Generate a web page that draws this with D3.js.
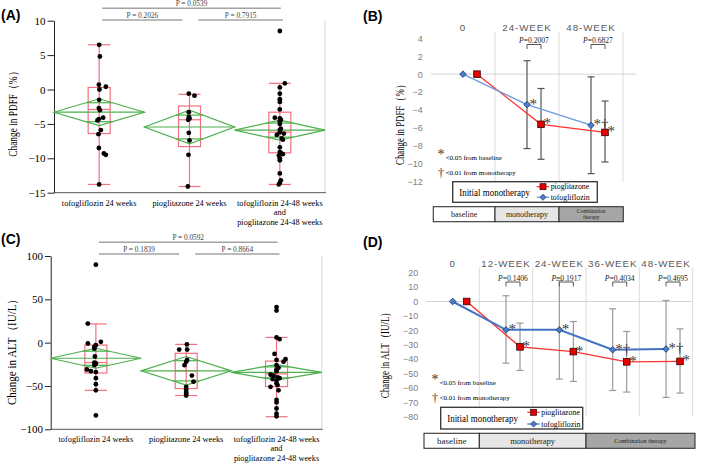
<!DOCTYPE html>
<html><head><meta charset="utf-8">
<script src="https://cdn.jsdelivr.net/npm/d3@7"></script>
<style>body{margin:0;background:#fff}svg{display:block}</style>
</head><body>
<svg id="c" width="709" height="464"></svg>
<script>
const serif = "'Liberation Serif','Times New Roman',Times,serif";
const sans = "'Liberation Sans',Arial,Helvetica,sans-serif";

// ---------------- Data: box panels (A: PDFF, C: ALT) ----------------
const groupLabels = [["tofogliflozin 24 weeks"], ["pioglitazone 24 weeks"], ["tofogliflozin 24-48 weeks", "and", "pioglitazone 24-48 weeks"]];

const pdffTicks = [10, 5, 0, -5, -10, -15];
const pdffTofo24 = [6.5, 4.8, 0.7, 0.4, 0.0, -1.5, -2.7, -3.0, -4.1, -4.3, -4.5, -5.9, -6.5, -8.5, -9.3, -9.5, -13.8];
const pdffTofo24Jit = [0, 0.7, -0.3, 6.7, 0.3, 0, -0.3, 0.7, 4, -0.3, -1.7, 1.7, -0.7, -0.3, 4.7, 6.7, 0];
const pdffPio24 = [-0.6, -0.9, -3.3, -4.0, -4.2, -4.4, -6.3, -7.4, -9.5, -14.1];
const pdffPio24Jit = [-0.7, 5, -0.7, -0.7, 0, -1.3, -0.7, 0, -1, -1.7];
const pdffComb = [8.5, 0.9, 0.3, -0.6, -1.4, -1.8, -2.9, -4.1, -4.2, -4.4, -4.6, -5.0, -5.7, -5.9, -6.2, -6.4, -6.6, -7.1, -7.3, -8.4, -9.1, -9.2, -9.4, -9.6, -10.0, -10.3, -12.2, -13.2, -13.6, -13.8];
const pdffCombJit = [0, 5, 0, 0, 0, 0, 0, -5, 0, 1, 0, 0, 1, 0, 0, 4, -3, 2, 3, 0, 0, 1, 3, -1, 0, 0, 0, 1, 0, -1];
const pdffWhiskLo = [-13.8, -14.1, -13.8];
const pdffQ1 = [-6.4, -8.3, -9.2];
const pdffMedian = [-2.9, -4.4, -6.2];
const pdffQ3 = [0.3, -2.4, -3.3];
const pdffWhiskHi = [6.5, -0.7, 0.9];
const pdffMean = [-3.3, -5.45, -5.9];
const pdffCI = [1.95, 2.45, 1.45];
const pdffPairs = [[0, 2], [0, 1], [1, 2]];
const pdffPvals = ["P = 0.0539", "P = 0.2026", "P = 0.7915"];

const altTicks = [100, 50, 0, -50, -100];
const altTofo24 = [90, 22, 1, -1, -3, -5, -7, -16, -23, -24, -26, -31, -33, -34, -41, -48, -55, -84];
const altTofo24Jit = [0, -8, 5, -8, 0, -1.5, -1.5, -1, -1.5, 0, -1.5, -9, -5, 0, 0, 0, 0, 0];
const altPio24 = [-2, -8, -8, -20, -22, -26, -38, -45, -51, -54, -57, -59, -61];
const altPio24Jit = [0.7, 1, -7, 1, 0, -1.7, 5.7, 7.3, 0, 0, 0, 0, 0];
const altComb = [41, 37, 6, 4, -13, -19, -20, -22, -26, -29, -31, -33, -37, -38, -40, -41, -42, -44, -47, -49, -51, -55, -66, -69, -76, -82, -85];
const altCombJit = [0, 0, 0, 3, -2, 9, 0, 7, 0, 2, 0, 0, -6, -3, 1, 3, -4, 0, 0, 1, -6, 2, 0, 0, 0, 0, 0];
const altWhiskLo = [-55, -61, -85.5];
const altQ1 = [-35, -53, -50.7];
const altMedian = [-23, -32.5, -36];
const altQ3 = [-2.7, -12.3, -21.3];
const altWhiskHi = [21.6, -2, 6];
const altMean = [-18, -32.5, -34.3];
const altCI = [11.5, 16.5, 9];
const altPairs = [[0, 2], [0, 1], [1, 2]];
const altPvals = ["P = 0.0592", "P = 0.1839", "P = 0.8664"];

// ---------------- Data: line panels (B: PDFF, D: ALT) ----------------
const pdffWeeks = ["0", "24-WEEK", "48-WEEK"];
const pdffWeekTicks = [4, 2, 0, -2, -4, -6, -8, -10, -12];
const pdffTofoMean = [0, -3.4, -5.7];
const pdffTofoLo = [null, -8.3, -11.1];
const pdffTofoHi = [null, 1.5, -0.3];
const pdffPioMean = [0, -5.6, -6.5];
const pdffPioLo = [null, -9.5, -9.8];
const pdffPioHi = [null, -1.6, -3.0];
const pdffTofoSig = ["", "*", "*†"];
const pdffPioSig = ["", "*", "*"];
const pdffWeekP = [null, "0.2007", "0.6827"];

const altWeeks = ["0", "12-WEEK", "24-WEEK", "36-WEEK", "48-WEEK"];
const altWeekTicks = [20, 10, 0, -10, -20, -30, -40, -50, -60, -70, -80];
const altTofoMean = [0, -19.7, -19.7, -33.5, -33.0];
const altTofoLo = [null, -42.8, -53.9, -61.8, -66.6];
const altTofoHi = [null, 4, 14.6, -5.1, 0.7];
const altPioMean = [0, -31.5, -34.8, -41.9, -41.6];
const altPioLo = [null, -47.9, -55.5, -62.9, -63.6];
const altPioHi = [null, -15, -13.9, -20.8, -19];
const altTofoSig = ["", "*", "*", "*†", "*†"];
const altPioSig = ["", "*", "*", "*", "*"];
const altWeekP = [null, "0.1406", "0.1917", "0.4034", "0.4695"];

const seriesNames = ["pioglitazone", "tofogliflozin"];
const phases = ["baseline", "monotherapy", "Combination therapy"];

// ---------------- Drawing ----------------
const svg = d3.select("#c");
const boxColor = "#f2707f", green = "#4cb04c";

function panelLabel(t, x, y) {
  svg.append("text").attr("x", x).attr("y", y).text(t)
    .attr("font-family", sans).attr("font-weight", "bold").attr("font-size", 14);
}
function yLabel(t, x, y, len) {
  svg.append("text").attr("transform", `translate(${x},${y}) rotate(-90)`)
    .attr("text-anchor", "middle").attr("font-family", serif).attr("font-size", 11.5)
    .attr("textLength", len).attr("lengthAdjust", "spacingAndGlyphs").text(t);
}

function drawBoxPanel(c) {
  const g = svg.append("g");
  const x = d3.scaleBand().domain(d3.range(3)).range(c.xr);
  const y = d3.scaleLinear().domain(c.domain).range(c.yr);
  const bw = x.bandwidth(), cx = i => x(i) + bw / 2;
  g.append("line").attr("x1", c.xr[1]).attr("x2", c.xr[1]).attr("y1", c.yr[1]).attr("y2", c.yr[0])
    .attr("stroke", "#e2e2e2").attr("stroke-width", 1.5);
  g.append("line").attr("x1", c.xr[0]).attr("x2", c.xr[1] + 1).attr("y1", c.yr[0]).attr("y2", c.yr[0])
    .attr("stroke", "#555").attr("stroke-width", 1);
  const ax = g.append("g").attr("transform", `translate(${c.xr[0]},0)`)
    .call(d3.axisLeft(y).tickValues(c.ticks).tickSize(c.tickLen).tickSizeOuter(0).tickPadding(2));
  ax.selectAll("text").attr("font-family", serif).attr("font-size", 11).attr("fill", "#000");
  ax.selectAll("line,path").attr("stroke", "#222");

  const hw = 11;
  d3.range(3).forEach(i => {
    const X = cx(i);
    g.append("line").attr("x1", X).attr("x2", X).attr("y1", y(c.lo[i])).attr("y2", y(c.hi[i])).attr("stroke", boxColor).attr("stroke-width", 1.2);
    [c.lo[i], c.hi[i], c.med[i]].forEach(v => g.append("line").attr("x1", X - hw).attr("x2", X + hw).attr("y1", y(v)).attr("y2", y(v)).attr("stroke", boxColor).attr("stroke-width", 1.2));
    g.append("rect").attr("x", X - hw).attr("width", 2 * hw).attr("y", y(c.q3[i])).attr("height", y(c.q1[i]) - y(c.q3[i]))
      .attr("fill", "none").attr("stroke", boxColor).attr("stroke-width", 1.2);
  });
  d3.range(3).forEach(i => {
    const x0 = x(i), x1 = x(i) + bw, X = cx(i), m = c.mean[i], h = c.ci[i];
    g.append("path").attr("d", `M${x0},${y(m)}L${X},${y(m + h)}L${x1},${y(m)}L${X},${y(m - h)}Z`)
      .attr("fill", "none").attr("stroke", green).attr("stroke-width", 1.2);
    g.append("line").attr("x1", x0).attr("x2", x1).attr("y1", y(m)).attr("y2", y(m)).attr("stroke", green).attr("stroke-width", 1.2);
    const k = Math.SQRT1_2, w = bw / 2 * (1 - k);
    [m + h * k, m - h * k].forEach(v => g.append("line").attr("x1", X - w).attr("x2", X + w).attr("y1", y(v)).attr("y2", y(v)).attr("stroke", green).attr("stroke-width", 1.2));
  });
  c.points.forEach((arr, i) => {
    g.selectAll(null).data(arr).enter().append("circle")
      .attr("cx", (d, j) => cx(i) + c.jit[i][j]).attr("cy", d => y(d)).attr("r", 2.4).attr("fill", "#000");
  });
  const insets = [[3, 1], [3, -7], [9, 3]];
  c.pairs.forEach((p, k) => {
    const x1 = cx(p[0]) + insets[k][0], x2 = cx(p[1]) + insets[k][1];
    const ly = k === 0 ? c.pY[0] : c.pY[1];
    g.append("line").attr("x1", x1).attr("x2", x2).attr("y1", ly).attr("y2", ly).attr("stroke", "#a3a3a3").attr("stroke-width", 1.6);
    g.append("text").attr("x", (x1 + x2) / 2).attr("y", ly - 2).attr("text-anchor", "middle")
      .attr("font-family", serif).attr("font-size", 7.3).attr("fill", "#444").text(c.pvals[k]);
  });
  groupLabels.forEach((lines, i) => {
    lines.forEach((t, j) => g.append("text").attr("x", cx(i)).attr("y", c.labelY + j * 9.4).attr("text-anchor", "middle")
      .attr("font-family", serif).attr("font-size", 8.3).text(t));
  });
}

drawBoxPanel({
  xr: [54, 325], domain: [-15, 10], yr: [192.7, 20.7], ticks: pdffTicks, tickLen: 6.5,
  lo: pdffWhiskLo, q1: pdffQ1, med: pdffMedian, q3: pdffQ3, hi: pdffWhiskHi, mean: pdffMean, ci: pdffCI,
  points: [pdffTofo24, pdffPio24, pdffComb], jit: [pdffTofo24Jit, pdffPio24Jit, pdffCombJit],
  pairs: pdffPairs, pvals: pdffPvals, pY: [8.3, 20], labelY: 205.7
});
drawBoxPanel({
  xr: [50.7, 321.7], domain: [-100, 100], yr: [429.3, 256], ticks: altTicks, tickLen: 5.7,
  lo: altWhiskLo, q1: altQ1, med: altMedian, q3: altQ3, hi: altWhiskHi, mean: altMean, ci: altCI,
  points: [altTofo24, altPio24, altComb], jit: [altTofo24Jit, altPio24Jit, altCombJit],
  pairs: altPairs, pvals: altPvals, pY: [242.3, 254], labelY: 442
});

function drawLinePanel(c) {
  const g = svg.append("g");
  const x = d3.scaleBand().domain(c.weeks).range(c.xr);
  const y = d3.scaleLinear().domain(c.domain).range(c.yr);
  const bw = x.bandwidth();
  const tx = i => x(c.weeks[i]) + bw / 2, px = i => tx(i) + 14;
  c.weeks.forEach(w => g.append("line").attr("x1", x(w) + bw).attr("x2", x(w) + bw).attr("y1", c.gridTop).attr("y2", c.yr[0])
    .attr("stroke", "#dcdcdc").attr("stroke-width", 1));
  g.append("line").attr("x1", c.xr[0]).attr("x2", c.zeroEnd).attr("y1", y(0)).attr("y2", y(0)).attr("stroke", "#d4d4d4");
  const ax = g.append("g").attr("transform", `translate(${c.labelX},0)`)
    .call(d3.axisLeft(y).tickValues(c.ticks).tickSize(0).tickPadding(0));
  ax.select(".domain").remove();
  ax.selectAll("text").attr("font-family", sans).attr("font-size", 9).attr("fill", "#808080");
  c.weeks.forEach((w, i) => g.append("text").attr("x", tx(i)).attr("y", c.catY).attr("text-anchor", "middle")
    .attr("font-family", sans).attr("font-size", 9.8).attr("letter-spacing", 0.9).attr("fill", "#595959").text(w));
  const eb = (X, lo, hi) => {
    if (lo == null) return;
    g.append("line").attr("x1", X).attr("x2", X).attr("y1", y(lo)).attr("y2", y(hi)).attr("stroke", c.errColor).attr("stroke-width", 1.2);
    [lo, hi].forEach(v => g.append("line").attr("x1", X - 3.5).attr("x2", X + 3.5).attr("y1", y(v)).attr("y2", y(v)).attr("stroke", c.errColor).attr("stroke-width", 1.2));
  };
  c.weeks.forEach((w, i) => { eb(tx(i), c.tLo[i], c.tHi[i]); eb(px(i), c.pLo[i], c.pHi[i]); });
  const idx = d3.range(c.weeks.length);
  g.append("path").attr("d", d3.line().x(i => px(i)).y(i => y(c.pMean[i]))(idx)).attr("fill", "none").attr("stroke", "#ff3030").attr("stroke-width", c.lw[0]);
  g.append("path").attr("d", d3.line().x(i => tx(i)).y(i => y(c.tMean[i]))(idx)).attr("fill", "none").attr("stroke", c.blue).attr("stroke-width", c.lw[1]);
  idx.forEach(i => {
    g.append("rect").attr("x", px(i) - 3.3).attr("y", y(c.pMean[i]) - 3.3).attr("width", 6.6).attr("height", 6.6)
      .attr("fill", "#e60000").attr("stroke", "#3a0000").attr("stroke-width", 0.8);
    g.append("path").attr("d", d3.symbol(d3.symbolDiamond2, 28)()).attr("transform", `translate(${tx(i)},${y(c.tMean[i])})`)
      .attr("fill", "#4a7ccc").attr("stroke", "#1e3a6b").attr("stroke-width", 0.8);
    [[tx(i), c.tMean[i], c.tSig[i]], [px(i), c.pMean[i], c.pSig[i]]].forEach(([X, v, s]) => {
      if (s) g.append("text").attr("x", X + 2.5).attr("y", y(v) + 4).attr("font-family", serif).attr("font-size", 15)
        .attr("fill", "#3a3a3a").text(s);
    });
    if (c.pv[i]) {
      const x1 = tx(i), x2 = px(i);
      g.append("path").attr("d", `M${x1},${c.brY + 4.5}V${c.brY}H${x2}V${c.brY + 4.5}`).attr("fill", "none").attr("stroke", "#555").attr("stroke-width", 1);
      const t = g.append("text").attr("x", (x1 + x2) / 2).attr("y", c.brY - 1.3).attr("text-anchor", "middle")
        .attr("font-family", serif).attr("font-size", 7.6).attr("fill", "#222");
      t.append("tspan").attr("font-style", "italic").text("P");
      t.append("tspan").text("=" + c.pv[i]);
    }
  });
  g.append("text").attr("x", c.note[0]).attr("y", c.note[1]).attr("font-family", serif).attr("font-size", 14).attr("fill", "#333").text("*");
  g.append("text").attr("x", c.note[0] + 8).attr("y", c.note[1] + 1).attr("font-family", serif).attr("font-size", 7).text("<0.05 from baseline");
  g.append("text").attr("x", c.note[0] + 0.5).attr("y", c.note[1] + 18).attr("font-family", serif).attr("font-size", 12).attr("fill", "#333").text("†");
  g.append("text").attr("x", c.note[0] + 8).attr("y", c.note[1] + 16).attr("font-family", serif).attr("font-size", 7).text("<0.01 from monotherapy");
  const L = c.legend;
  g.append("rect").attr("x", L.x).attr("y", L.y).attr("width", L.w).attr("height", L.h).attr("fill", "#fff").attr("stroke", "#333").attr("stroke-width", 1.3);
  g.append("text").attr("x", L.x + 6.5).attr("y", L.y + L.h / 2 + 3.5).attr("font-family", serif).attr("font-size", 11)
    .attr("textLength", 70.7).attr("lengthAdjust", "spacingAndGlyphs").text("Initial monotherapy");
  seriesNames.forEach((s, k) => {
    const ly = L.y + (k === 0 ? 5 : L.h - 5), lx = L.sx;
    g.append("line").attr("x1", lx).attr("x2", lx + 12.5).attr("y1", ly).attr("y2", ly).attr("stroke", k === 0 ? "#ff3030" : c.blue).attr("stroke-width", 1.2);
    if (k === 0) g.append("rect").attr("x", lx + 3.3).attr("y", ly - 3).attr("width", 6).attr("height", 6).attr("fill", "#e60000").attr("stroke", "#3a0000").attr("stroke-width", 0.7);
    else g.append("path").attr("d", d3.symbol(d3.symbolDiamond2, 24)()).attr("transform", `translate(${lx + 6.3},${ly})`).attr("fill", "#4a7ccc").attr("stroke", "#1e3a6b").attr("stroke-width", 0.7);
    g.append("text").attr("x", lx + 14).attr("y", ly + 2.6).attr("font-family", serif).attr("font-size", 7.8).text(s);
  });
  const B = c.bar, fills = ["#ffffff", "#e6e6e6", "#a6a6a6"];
  B.spans.forEach((sp, k) => {
    const x0 = k === 0 ? B.x0 : x(c.weeks[sp[0]]);
    const x1 = sp[1] >= c.weeks.length ? B.x1 : x(c.weeks[sp[1]]);
    g.append("rect").attr("x", x0).attr("y", B.y).attr("width", x1 - x0).attr("height", B.h).attr("fill", fills[k]).attr("stroke", "#333").attr("stroke-width", 1.1);
    const lines = k === 2 && B.wrap ? ["Combination", "therapy"] : [phases[k]];
    const fs = B.fs[k];
    lines.forEach((t, j) => g.append("text").attr("x", (x0 + x1) / 2)
      .attr("y", B.y + B.h / 2 + fs * 0.35 + (j - (lines.length - 1) / 2) * fs * 1.15)
      .attr("text-anchor", "middle").attr("font-family", serif).attr("font-size", fs).attr("fill", "#222").text(t));
  });
}

drawLinePanel({
  weeks: pdffWeeks, xr: [431, 623], domain: [-12, 4], yr: [181.7, 38.3], ticks: pdffWeekTicks,
  gridTop: 31.7, zeroEnd: 636, labelX: 422.7, catY: 30.5,
  tMean: pdffTofoMean, tLo: pdffTofoLo, tHi: pdffTofoHi, pMean: pdffPioMean, pLo: pdffPioLo, pHi: pdffPioHi,
  tSig: pdffTofoSig, pSig: pdffPioSig, pv: pdffWeekP, brY: 44.5,
  errColor: "#555", blue: "#6a9be0", lw: [1.3, 1.3],
  note: [437.5, 159],
  legend: { x: 452.7, y: 181.7, w: 144.6, h: 20.6, sx: 536.7 },
  bar: { x0: 433.3, x1: 623.3, y: 206.7, h: 15, spans: [[0, 1], [1, 2], [2, 3]], fs: [8, 8, 5.5], wrap: true }
});
drawLinePanel({
  weeks: altWeeks, xr: [426, 692.7], domain: [-80, 20], yr: [416.7, 272.7], ticks: altWeekTicks,
  gridTop: 267.3, zeroEnd: 692.7, labelX: 418.3, catY: 266.5,
  tMean: altTofoMean, tLo: altTofoLo, tHi: altTofoHi, pMean: altPioMean, pLo: altPioLo, pHi: altPioHi,
  tSig: altTofoSig, pSig: altPioSig, pv: altWeekP, brY: 282,
  errColor: "#9a9a9a", blue: "#4472c4", lw: [1.4, 2],
  note: [431.5, 384],
  legend: { x: 440.7, y: 407.3, w: 142, h: 21.7, sx: 527.3 },
  bar: { x0: 424, x1: 695, y: 433.3, h: 15, spans: [[0, 1], [1, 3], [3, 5]], fs: [9, 8.5, 6.2], wrap: false }
});

panelLabel("(A)", 1, 20);
panelLabel("(B)", 363, 21);
panelLabel("(C)", 1, 244);
panelLabel("(D)", 363, 246.5);
yLabel("Change in PDFF（%）", 16.5, 111.7, 90);
yLabel("Change in PDFF（%）", 403.5, 122.5, 85);
yLabel("Change in ALT（IU/L）", 15.5, 349, 112);
yLabel("Change in ALT（IU/L）", 389, 352.8, 91);
</script>
</body></html>
